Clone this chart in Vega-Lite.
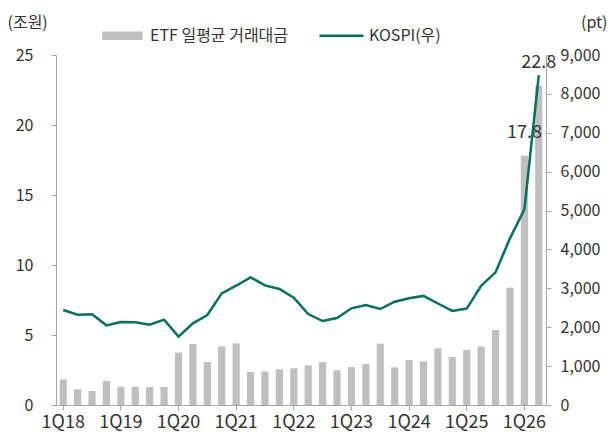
{
  "$schema": "https://vega.github.io/schema/vega-lite/v6.json",
  "width": 490,
  "height": 350,
  "autosize": {"type": "none"},
  "padding": {"left": 56, "top": 55, "right": 65, "bottom": 27},
  "config": {
    "view": {"stroke": null},
    "font": "Noto Sans CJK KR",
    "axis": {
      "grid": false,
      "domainColor": "#A6A6A6",
      "tickColor": "#A6A6A6",
      "labelColor": "#333333",
      "labelFontSize": 16,
      "titleFontSize": 16,
      "titleFontWeight": "normal",
      "titleColor": "#333333"
    }
  },
  "data": {
    "values": [
      {"q": "1Q18", "etf": 1.83, "kospi": 2442},
      {"q": "2Q18", "etf": 1.12, "kospi": 2322},
      {"q": "3Q18", "etf": 1.0, "kospi": 2331},
      {"q": "4Q18", "etf": 1.71, "kospi": 2048},
      {"q": "1Q19", "etf": 1.29, "kospi": 2134},
      {"q": "2Q19", "etf": 1.3, "kospi": 2126},
      {"q": "3Q19", "etf": 1.29, "kospi": 2065},
      {"q": "4Q19", "etf": 1.29, "kospi": 2194},
      {"q": "1Q20", "etf": 3.74, "kospi": 1757},
      {"q": "2Q20", "etf": 4.36, "kospi": 2100},
      {"q": "3Q20", "etf": 3.07, "kospi": 2314},
      {"q": "4Q20", "etf": 4.19, "kospi": 2871},
      {"q": "1Q21", "etf": 4.4, "kospi": 3067},
      {"q": "2Q21", "etf": 2.36, "kospi": 3282},
      {"q": "3Q21", "etf": 2.4, "kospi": 3077},
      {"q": "4Q21", "etf": 2.55, "kospi": 2982},
      {"q": "1Q22", "etf": 2.62, "kospi": 2759},
      {"q": "2Q22", "etf": 2.83, "kospi": 2339},
      {"q": "3Q22", "etf": 3.07, "kospi": 2159},
      {"q": "4Q22", "etf": 2.48, "kospi": 2236},
      {"q": "1Q23", "etf": 2.71, "kospi": 2486},
      {"q": "2Q23", "etf": 2.93, "kospi": 2571},
      {"q": "3Q23", "etf": 4.38, "kospi": 2468},
      {"q": "4Q23", "etf": 2.69, "kospi": 2656},
      {"q": "1Q24", "etf": 3.21, "kospi": 2747},
      {"q": "2Q24", "etf": 3.12, "kospi": 2805},
      {"q": "3Q24", "etf": 4.05, "kospi": 2610},
      {"q": "4Q24", "etf": 3.43, "kospi": 2420},
      {"q": "1Q25", "etf": 3.93, "kospi": 2480},
      {"q": "2Q25", "etf": 4.19, "kospi": 3063},
      {"q": "3Q25", "etf": 5.36, "kospi": 3411},
      {"q": "4Q25", "etf": 8.38, "kospi": 4285},
      {"q": "1Q26", "etf": 17.8, "kospi": 5031},
      {"q": "2Q26", "etf": 22.8, "kospi": 8483}
    ]
  },
  "encoding": {
    "x": {
      "field": "q", "type": "ordinal", "sort": null,
      "scale": {"type": "band", "paddingInner": 0.5, "paddingOuter": 0.25},
      "axis": {
        "title": null,
        "labelAngle": 0,
        "values": ["1Q18", "1Q19", "1Q20", "1Q21", "1Q22", "1Q23", "1Q24", "1Q25", "1Q26"],
        "tickSize": 5,
        "labelPadding": 3,
        "labelFontSize": 18
      }
    }
  },
  "layer": [
    {
      "encoding": {
        "y": {
          "field": "etf", "type": "quantitative",
          "scale": {"domain": [0, 25], "nice": false},
          "axis": {
            "orient": "left",
            "values": [0, 5, 10, 15, 20, 25],
            "tickSize": 5,
            "labelPadding": 18,
            "title": "(조원)",
            "titleAngle": 0,
            "titleAlign": "left",
            "titleBaseline": "middle",
            "titleX": -49,
            "titleY": -33
          }
        }
      },
      "layer": [
        {
          "mark": {"type": "bar", "color": "#BFBFBF"},
          "encoding": {
            "color": {
              "datum": "ETF 일평균 거래대금",
              "scale": {"domain": ["ETF 일평균 거래대금", "KOSPI(우)"], "range": ["#BFBFBF", "#00705F"]},
              "legend": {
                "title": null,
                "orient": "none",
                "legendX": 45,
                "legendY": -41,
                "padding": 0,
                "direction": "horizontal",
                "symbolSize": 1600,
                "labelFontSize": 16,
                "labelColor": "#333333",
                "labelOffset": 6,
                "columnPadding": 25,
                "labelLimit": 300,
                "encode": {
                  "symbols": {
                    "update": {
                      "shape": {"signal": "datum.value === 'KOSPI(우)' ? 'M-1.1,0H1.1' : 'M-0.95,-0.15H0.95V0.15H-0.95Z'"},
                      "fill": {"signal": "datum.value === 'KOSPI(우)' ? 'transparent' : '#BFBFBF'"},
                      "stroke": {"signal": "datum.value === 'KOSPI(우)' ? '#00705F' : 'transparent'"},
                      "strokeWidth": {"value": 2.5},
                      "opacity": {"value": 1}
                    }
                  }
                }
              }
            }
          }
        },
        {
          "transform": [{"filter": "datum.etf > 15"}],
          "mark": {"type": "text", "baseline": "alphabetic", "align": "center", "dy": -18, "fontSize": 18, "color": "#333333"},
          "encoding": {
            "text": {"field": "etf", "type": "quantitative", "format": ".1f"}
          }
        }
      ]
    },
    {
      "mark": {"type": "line", "color": "#00705F", "strokeWidth": 2.5},
      "encoding": {
        "y": {
          "field": "kospi", "type": "quantitative",
          "scale": {"domain": [0, 9000], "nice": false},
          "axis": {
            "orient": "right",
            "values": [0, 1000, 2000, 3000, 4000, 5000, 6000, 7000, 8000, 9000],
            "format": ",.0f",
            "tickSize": 5,
            "labelPadding": 9,
            "title": "(pt)",
            "titleAngle": 0,
            "titleAlign": "right",
            "titleBaseline": "middle",
            "titleX": 61,
            "titleY": -33
          }
        },
        "color": {"datum": "KOSPI(우)"}
      }
    }
  ],
  "resolve": {"scale": {"y": "independent"}}
}
